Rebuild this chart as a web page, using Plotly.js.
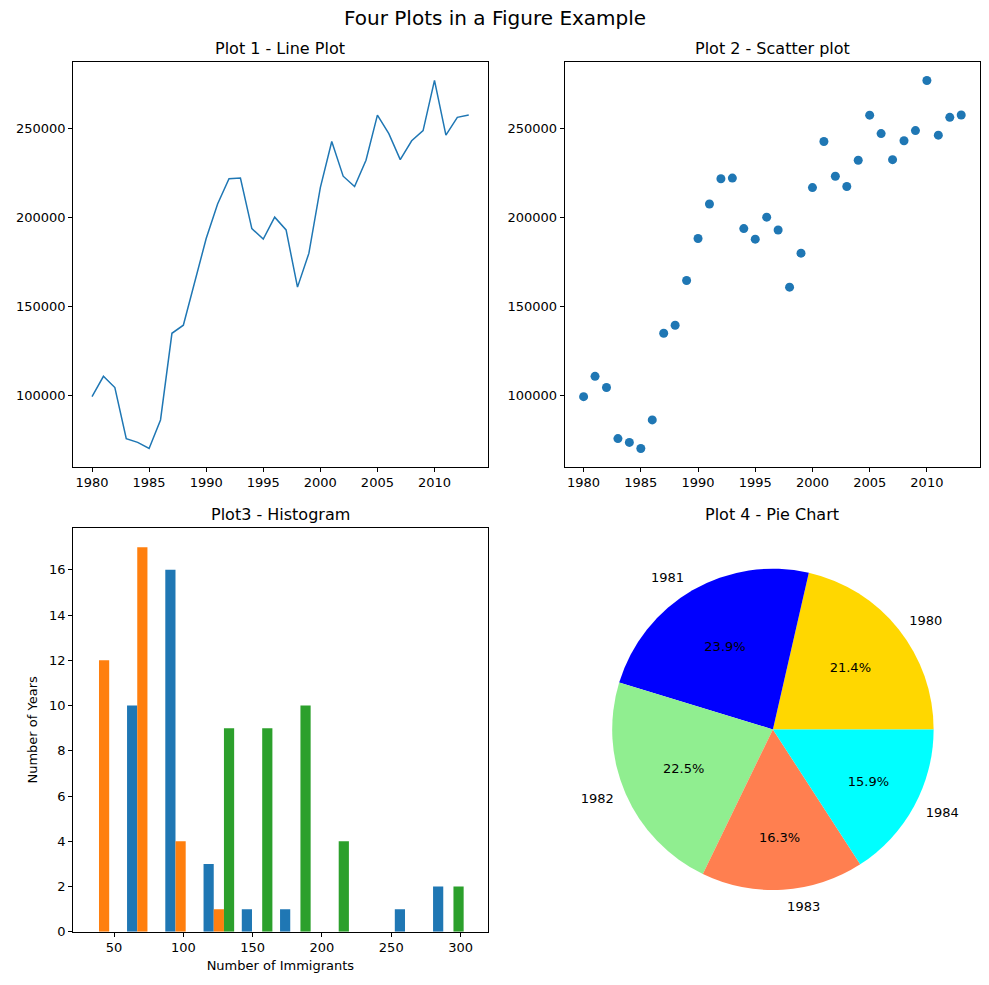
<!DOCTYPE html><html><head><script src="https://cdn.plot.ly/plotly-3.0.1.min.js"></script></head><body style="margin:0"><div id="c" style="width:989px;height:985px"></div><script>
const years=[1980,1981,1982,1983,1984,1985,1986,1987,1988,1989,1990,1991,1992,1993,1994,1995,1996,1997,1998,1999,2000,2001,2002,2003,2004,2005,2006,2007,2008,2009,2010,2011,2012,2013];
const total=[99137,110563,104271,75550,73417,69978,86048,134771,139306,164432,188054,207509,221687,222049,193665,187712,200085,192885,160727,179818,216712,242643,223111,217297,232083,257457,247057,232405,243047,248768,276956,246194,256222,257537];
const binEdges=[29,56.6,84.2,111.8,139.4,167,194.6,222.2,249.8,277.4,305];
const histBlue=[0,10,16,3,1,1,0,0,1,2];
const histOrange=[12,17,4,1,0,0,0,0,0,0];
const histGreen=[0,0,0,9,9,10,4,0,0,2];
const pieLabels=['1980','1981','1982','1983','1984'];
const pieValues=total.slice(0,5);
const pieColors=['gold','blue','lightgreen','coral','cyan'];
const F='DejaVu Sans';
const centers=binEdges.slice(0,-1).map((e,i)=>(e+binEdges[i+1])/2);
const bw=binEdges[1]-binEdges[0], dw=bw*0.8/3;
const hb=(v,k,c)=>({type:'bar',x:centers.map(x=>x+(k-1)*dw),y:v,width:dw,marker:{color:c},xaxis:'x3',yaxis:'y3',showlegend:false});
const pieSum=pieValues.reduce((a,b)=>a+b,0);
const rot=90-360*pieValues[0]/pieSum;
const clear=pieValues.map(()=> 'rgba(0,0,0,0)');
const data=[
{type:'scatter',mode:'lines',x:years,y:total,line:{color:'#1f77b4',width:1.5},xaxis:'x',yaxis:'y',showlegend:false},
{type:'scatter',mode:'markers',x:years,y:total,marker:{color:'#1f77b4',size:9},xaxis:'x2',yaxis:'y2',showlegend:false},
hb(histBlue,0,'#1f77b4'),hb(histOrange,1,'#ff7f0e'),hb(histGreen,2,'#2ca02c'),
{type:'pie',labels:pieLabels,values:pieValues,marker:{colors:pieColors},sort:false,direction:'counterclockwise',rotation:rot,textinfo:'percent',texttemplate:'%{percent:.1%}',textposition:'inside',insidetextorientation:'horizontal',textfont:{family:F,size:13,color:'black'},domain:{x:[0.619,0.944],y:[0.096,0.423]},showlegend:false},
{type:'pie',labels:pieLabels,values:pieValues,marker:{colors:clear},sort:false,direction:'counterclockwise',rotation:rot,textinfo:'label',textposition:'outside',outsidetextfont:{family:F,size:13,color:'black'},automargin:false,domain:{x:[0.61,0.953],y:[0.087,0.432]},showlegend:false}
];
const ax=(d,r,extra)=>Object.assign({domain:d,range:r,showgrid:false,zeroline:false,showline:true,mirror:true,linecolor:'black',ticks:'outside',ticklen:4,tickcolor:'black',tickfont:{family:F,size:13,color:'black'}},extra||{});
const t=(text,x,y,s)=>({text,x,y,xref:'paper',yref:'paper',showarrow:false,font:{family:F,size:s||16,color:'black'},xanchor:'center',yanchor:'bottom'});
const layout={width:989,height:985,margin:{l:0,r:0,t:0,b:0},paper_bgcolor:'white',plot_bgcolor:'white',barmode:'overlay',
xaxis:ax([0.074,0.493],[1978.35,2014.65],{anchor:'y',dtick:5}),
yaxis:ax([0.526,0.937],[59640,287300],{anchor:'x',dtick:50000,tickformat:'d'}),
xaxis2:ax([0.571,0.991],[1978.35,2014.65],{anchor:'y2',dtick:5}),
yaxis2:ax([0.526,0.937],[59640,287300],{anchor:'x2',dtick:50000,tickformat:'d'}),
xaxis3:ax([0.074,0.493],[20.5,319.5],{anchor:'y3',dtick:50,title:{text:'Number of Immigrants',font:{family:F,size:13,color:'black'},standoff:6}}),
yaxis3:ax([0.054,0.464],[0,17.85],{anchor:'x3',dtick:2,title:{text:'Number of Years',font:{family:F,size:13,color:'black'},standoff:8}}),
annotations:[t('Four Plots in a Figure Example',0.5,0.968,20),t('Plot 1 - Line Plot',0.2835,0.939),t('Plot 2 - Scatter plot',0.781,0.939),t('Plot3 - Histogram',0.2835,0.466),t('Plot 4 - Pie Chart',0.781,0.466)]};
Plotly.newPlot('c',data,layout,{staticPlot:true});
</script></body></html>
